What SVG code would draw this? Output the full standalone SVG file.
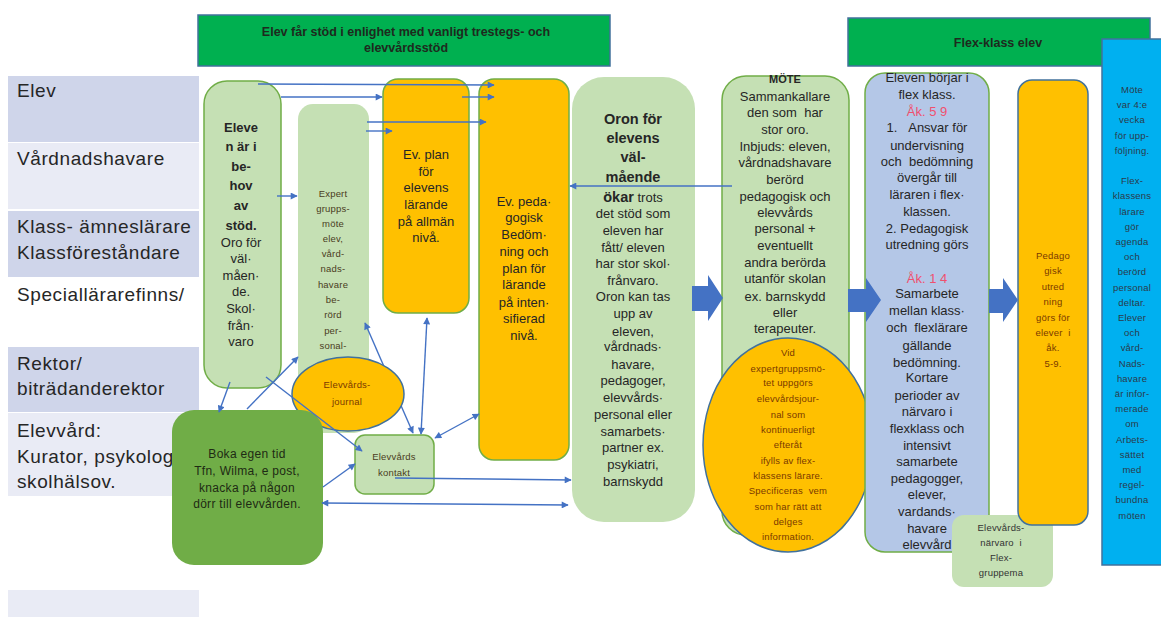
<svg xmlns="http://www.w3.org/2000/svg" width="1161" height="617" viewBox="0 0 1161 617">
<defs>
<marker id="ah" viewBox="0 0 10 10" refX="9" refY="5" markerWidth="8" markerHeight="7" markerUnits="userSpaceOnUse" orient="auto-start-reverse"><path d="M0,0 L10,5 L0,10 z" fill="#4472c4"/></marker>
<style>
.lane-d{fill:#cfd5ea}
.lane-l{fill:#e9ebf5}
.lt{font-family:"Liberation Sans",Arial,sans-serif;font-size:19px;fill:#262626;letter-spacing:0.6px}
.ban{fill:#00b050;stroke:#41719c;stroke-width:1.5}
.bt{font-family:"Liberation Sans",Arial,sans-serif;font-size:12.5px;font-weight:bold;fill:#1e2a1e;text-anchor:middle}
.gbox{fill:#c5e0b4;stroke:#70ad47;stroke-width:1.5}
.gfill{fill:#c5e0b4}
.obox{fill:#ffc000;stroke:#70ad47;stroke-width:1.5}
.oboxb{fill:#ffc000;stroke:#41719c;stroke-width:1.5}
.ell{fill:#ffc000;stroke:#41719c;stroke-width:1.5}
.t{font-family:"Liberation Sans",Arial,sans-serif;font-size:13px;fill:#262626;text-anchor:middle}
.tb{font-weight:bold}
.big{font-size:14.5px;font-weight:bold}
.s{font-family:"Liberation Sans",Arial,sans-serif;font-size:9.5px;fill:#4a3c22;text-anchor:middle;letter-spacing:0.2px}
.se{fill:#7a3a00}
.red{fill:#f0506e}
.conn{fill:none;stroke:#4472c4;stroke-width:1.4}
.blk{fill:#4472c4}
</style>
</defs>
<rect width="1161" height="617" fill="#ffffff"/>

<g id="lanes">
<rect class="lane-d" x="8" y="76" width="191" height="66"/>
<rect class="lane-l" x="8" y="143" width="191" height="66"/>
<rect class="lane-d" x="8" y="211" width="191" height="66"/>
<rect class="lane-d" x="8" y="347" width="191" height="65"/>
<rect class="lane-l" x="8" y="413" width="191" height="83"/>
<rect class="lane-l" x="8" y="590" width="191" height="27"/>
<text class="lt" x="17" y="97">Elev</text>
<text class="lt" x="17" y="165">Vårdnadshavare</text>
<text class="lt" x="17" y="233">Klass- ämneslärare</text>
<text class="lt" x="17" y="259">Klassföreståndare</text>
<text class="lt" x="17" y="301">Speciallärarefinns/</text>
<text class="lt" x="17" y="370">Rektor/</text>
<text class="lt" x="17" y="395">biträdanderektor</text>
<text class="lt" x="17" y="437">Elevvård:</text>
<text class="lt" x="17" y="463">Kurator, psykolog</text>
<text class="lt" x="17" y="488">skolhälsov.</text>
</g>

<g id="banner-trestegs">
<rect class="ban" x="198" y="15" width="412" height="51"/>
<text class="bt" x="406" y="36">Elev får stöd i enlighet med vanligt trestegs- och</text>
<text class="bt" x="406" y="52">elevvårdsstöd</text>
</g>

<g id="banner-flex">
<rect class="ban" x="848" y="18" width="302" height="48"/>
<text class="bt" x="998" y="47">Flex-klass elev</text>
</g>

<g id="node-expertgrupp">
<rect class="gfill" x="298" y="104" width="71" height="329" rx="15"/>
<text class="s"><tspan x="333" y="197">Expert</tspan><tspan x="333" y="212">grupps-</tspan><tspan x="333" y="227">möte</tspan><tspan x="333" y="242">elev,</tspan><tspan x="333" y="257">vård-</tspan><tspan x="333" y="272">nads-</tspan><tspan x="333" y="288">havare</tspan><tspan x="333" y="303">be-</tspan><tspan x="333" y="318">rörd</tspan><tspan x="333" y="334">per-</tspan><tspan x="333" y="349">sonal-</tspan></text>
</g>

<g id="connectors-back">
<line class="conn" x1="365" y1="323" x2="413" y2="433" marker-start="url(#ah)" marker-end="url(#ah)"/>
</g>

<g id="node-behov">
<rect class="gbox" x="204" y="81" width="77" height="307" rx="23"/>
<text class="t"><tspan class="tb" x="241" y="132">Eleve</tspan><tspan class="tb" x="241" y="151">n är i</tspan><tspan class="tb" x="241" y="171">be-</tspan><tspan class="tb" x="241" y="190">hov</tspan><tspan class="tb" x="241" y="210">av</tspan><tspan class="tb" x="241" y="230">stöd.</tspan><tspan x="241" y="247">Oro för</tspan><tspan x="241" y="263">väl·</tspan><tspan x="241" y="280">måen·</tspan><tspan x="241" y="296">de.</tspan><tspan x="241" y="313">Skol·</tspan><tspan x="241" y="330">från·</tspan><tspan x="241" y="346">varo</tspan></text>
</g>

<g id="node-plan-allman">
<rect class="obox" x="383" y="79" width="86" height="234" rx="15"/>
<text class="t"><tspan x="426" y="159">Ev. plan</tspan><tspan x="426" y="176">för</tspan><tspan x="426" y="192">elevens</tspan><tspan x="426" y="209">lärande</tspan><tspan x="426" y="226">på allmän</tspan><tspan x="426" y="242">nivå.</tspan></text>
</g>

<g id="node-pedagogisk">
<rect class="obox" x="479" y="79" width="90" height="381" rx="15"/>
<text class="t"><tspan x="524" y="206">Ev. peda·</tspan><tspan x="524" y="222">gogisk</tspan><tspan x="524" y="239">Bedöm·</tspan><tspan x="524" y="256">ning och</tspan><tspan x="524" y="273">plan för</tspan><tspan x="524" y="289">lärande</tspan><tspan x="524" y="307">på inten·</tspan><tspan x="524" y="323">sifierad</tspan><tspan x="524" y="340">nivå.</tspan></text>
</g>

<g id="node-oron">
<rect class="gfill" x="572" y="77" width="123" height="445" rx="32"/>
<text class="t"><tspan class="big" x="633" y="124">Oron för</tspan><tspan class="big" x="633" y="143">elevens</tspan><tspan class="big" x="633" y="162">väl-</tspan><tspan class="big" x="633" y="182">mående</tspan><tspan x="633" y="202"><tspan class="big">ökar</tspan> trots</tspan><tspan x="633" y="218">det stöd som</tspan><tspan x="633" y="235">eleven har</tspan><tspan x="633" y="252">fått/ eleven</tspan><tspan x="633" y="268">har stor skol·</tspan><tspan x="633" y="285">frånvaro.</tspan><tspan x="633" y="301">Oron kan tas</tspan><tspan x="633" y="318">upp av</tspan><tspan x="633" y="336">eleven,</tspan><tspan x="633" y="351">vårdnads·</tspan><tspan x="633" y="369">havare,</tspan><tspan x="633" y="385">pedagoger,</tspan><tspan x="633" y="402">elevvårds·</tspan><tspan x="633" y="419">personal eller</tspan><tspan x="633" y="436">samarbets·</tspan><tspan x="633" y="452">partner ex.</tspan><tspan x="633" y="469">psykiatri,</tspan><tspan x="633" y="486">barnskydd</tspan></text>
</g>

<g id="node-mote">
<rect class="gbox" x="722" y="76" width="127" height="459" rx="24"/>
<text class="t"><tspan class="tb" x="785" y="83" style="font-size:11px">MÖTE</tspan><tspan x="785" y="101">Sammankallare</tspan><tspan x="785" y="117">den som&#160; har</tspan><tspan x="785" y="134">stor oro.</tspan><tspan x="785" y="151">Inbjuds: eleven,</tspan><tspan x="785" y="167">vårdnadshavare</tspan><tspan x="785" y="184">berörd</tspan><tspan x="785" y="201">pedagogisk och</tspan><tspan x="785" y="217">elevvårds</tspan><tspan x="785" y="233">personal +</tspan><tspan x="785" y="250">eventuellt</tspan><tspan x="785" y="267">andra berörda</tspan><tspan x="785" y="283">utanför skolan</tspan><tspan x="785" y="301">ex. barnskydd</tspan><tspan x="785" y="317">eller</tspan><tspan x="785" y="333">terapeuter.</tspan></text>
</g>

<g id="node-journal-flex">
<ellipse class="ell" cx="788" cy="445" rx="85" ry="107"/>
<text class="s se"><tspan x="788" y="356">Vid</tspan><tspan x="788" y="372">expertgruppsmö-</tspan><tspan x="788" y="386">tet uppgörs</tspan><tspan x="788" y="402">elevvårdsjour-</tspan><tspan x="788" y="418">nal som</tspan><tspan x="788" y="433">kontinuerligt</tspan><tspan x="788" y="448">efteråt</tspan><tspan x="788" y="464">ifylls av flex-</tspan><tspan x="788" y="479">klassens lärare.</tspan><tspan x="788" y="494">Specificeras&#160; vem</tspan><tspan x="788" y="510">som har rätt att</tspan><tspan x="788" y="525">delges</tspan><tspan x="788" y="540">information.</tspan></text>
</g>

<g id="node-flexklass">
<rect x="865" y="73" width="124" height="479" rx="20" fill="#b4c7e7" stroke="#70ad47" stroke-width="1.5"/>
<text class="t"><tspan x="927" y="82">Eleven börjar i</tspan><tspan x="927" y="99">flex klass.</tspan><tspan class="red" x="927" y="116">Åk. 5 9</tspan><tspan x="927" y="132">1.&#160;&#160;&#160;Ansvar för</tspan><tspan x="927" y="150">undervisning</tspan><tspan x="927" y="166">och&#160; bedömning</tspan><tspan x="927" y="182">övergår till</tspan><tspan x="927" y="199">läraren i flex·</tspan><tspan x="927" y="216">klassen.</tspan><tspan x="927" y="233">2. Pedagogisk</tspan><tspan x="927" y="249">utredning görs</tspan><tspan class="red" x="927" y="283">Åk. 1 4</tspan><tspan x="927" y="298">Samarbete</tspan><tspan x="927" y="315">mellan klass·</tspan><tspan x="927" y="332">och&#160; flexlärare</tspan><tspan x="927" y="350">gällande</tspan><tspan x="927" y="367">bedömning.</tspan><tspan x="927" y="382">Kortare</tspan><tspan x="927" y="400">perioder av</tspan><tspan x="927" y="416">närvaro i</tspan><tspan x="927" y="433">flexklass och</tspan><tspan x="927" y="450">intensivt</tspan><tspan x="927" y="466">samarbete</tspan><tspan x="927" y="483">pedagogger,</tspan><tspan x="927" y="499">elever,</tspan><tspan x="927" y="516">vardands·</tspan><tspan x="927" y="533">havare</tspan><tspan x="927" y="549">elevvård</tspan></text>
</g>

<g id="node-narvaro">
<rect class="gfill" x="952" y="515" width="101" height="72" rx="12"/>
<text class="s" style="fill:#333"><tspan x="1001" y="531">Elevvårds-</tspan><tspan x="1001" y="546">närvaro&#160; i</tspan><tspan x="1001" y="561">Flex-</tspan><tspan x="1001" y="576">gruppema</tspan></text>
</g>

<g id="node-utredning">
<rect class="oboxb" x="1018" y="80" width="70" height="445" rx="14"/>
<text class="s se"><tspan x="1053" y="259">Pedago</tspan><tspan x="1053" y="274">gisk</tspan><tspan x="1053" y="290">utred</tspan><tspan x="1053" y="305">ning</tspan><tspan x="1053" y="321">görs för</tspan><tspan x="1053" y="336">elever&#160; i</tspan><tspan x="1053" y="351">åk.</tspan><tspan x="1053" y="367">5-9.</tspan></text>
</g>

<g id="node-uppfoljning">
<rect x="1102" y="39" width="62" height="526" fill="#00b0f0" stroke="#41719c" stroke-width="1.5"/>
<text class="s" style="fill:#2b3a4a"><tspan x="1132" y="93">Möte</tspan><tspan x="1132" y="108">var 4:e</tspan><tspan x="1132" y="123">vecka</tspan><tspan x="1132" y="139">för upp-</tspan><tspan x="1132" y="154">följning.</tspan><tspan x="1132" y="184">Flex-</tspan><tspan x="1132" y="199">klassens</tspan><tspan x="1132" y="215">lärare</tspan><tspan x="1132" y="230">gör</tspan><tspan x="1132" y="245">agenda</tspan><tspan x="1132" y="260">och</tspan><tspan x="1132" y="275">berörd</tspan><tspan x="1132" y="291">personal</tspan><tspan x="1132" y="306">deltar.</tspan><tspan x="1132" y="321">Elever</tspan><tspan x="1132" y="336">och</tspan><tspan x="1132" y="351">vård-</tspan><tspan x="1132" y="367">Nads-</tspan><tspan x="1132" y="382">havare</tspan><tspan x="1132" y="397">är infor-</tspan><tspan x="1132" y="412">merade</tspan><tspan x="1132" y="427">om</tspan><tspan x="1132" y="443">Arbets-</tspan><tspan x="1132" y="458">sättet</tspan><tspan x="1132" y="473">med</tspan><tspan x="1132" y="488">regel-</tspan><tspan x="1132" y="503">bundna</tspan><tspan x="1132" y="519">möten</tspan></text>
</g>

<g id="node-journal">
<ellipse class="ell" cx="348" cy="394" rx="56" ry="37"/>
<text class="s se"><tspan x="347" y="388">Elevvårds-</tspan><tspan x="347" y="405">journal</tspan></text>
</g>

<g id="node-boka">
<rect x="172" y="410" width="151" height="155" rx="22" fill="#70ad47"/>
<text class="t" style="font-size:12px;letter-spacing:0.3px;fill:#1e2a14"><tspan x="247" y="458">Boka egen tid</tspan><tspan x="247" y="475">Tfn, Wilma, e post,</tspan><tspan x="247" y="492">knacka på någon</tspan><tspan x="247" y="508">dörr till elevvården.</tspan></text>
</g>

<g id="node-kontakt">
<rect class="gbox" x="355" y="435" width="79" height="59" rx="10"/>
<text class="s"><tspan x="394" y="460">Elevvårds</tspan><tspan x="394" y="476">kontakt</tspan></text>
</g>

<g id="block-arrows">
<path class="blk" d="M692,286 H708 V275 L723,298 L708,321 V311 H692 Z"/>
<path class="blk" d="M848,289 H866 V278 L881,300 L866,322 V312 H848 Z"/>
<path class="blk" d="M989,289 H1003 V278 L1018,300 L1003,322 V313 H989 Z"/>
</g>

<g id="connectors">
<line class="conn" x1="258" y1="84" x2="494" y2="85" marker-end="url(#ah)"/>
<line class="conn" x1="281" y1="97" x2="382" y2="97" marker-end="url(#ah)"/>
<line class="conn" x1="462" y1="97" x2="494" y2="97" marker-end="url(#ah)"/>
<line class="conn" x1="367" y1="122" x2="486" y2="122" marker-end="url(#ah)"/>
<line class="conn" x1="366" y1="131" x2="392" y2="131" marker-end="url(#ah)"/>
<line class="conn" x1="277" y1="196" x2="297" y2="196" marker-end="url(#ah)"/>
<line class="conn" x1="732" y1="186" x2="570" y2="186" marker-end="url(#ah)"/>
<line class="conn" x1="230" y1="382" x2="219" y2="412" marker-end="url(#ah)"/>
<line class="conn" x1="247" y1="409" x2="298" y2="357" marker-end="url(#ah)"/>
<line class="conn" x1="266" y1="377" x2="362" y2="451" marker-end="url(#ah)"/>
<line class="conn" x1="323" y1="487" x2="355" y2="464" marker-end="url(#ah)"/>
<line class="conn" x1="395" y1="478" x2="571" y2="480" marker-end="url(#ah)"/>
<line class="conn" x1="322" y1="503" x2="568" y2="505" marker-start="url(#ah)" marker-end="url(#ah)"/>
<line class="conn" x1="427" y1="318" x2="421" y2="434" marker-start="url(#ah)" marker-end="url(#ah)"/>
<line class="conn" x1="435" y1="438" x2="479" y2="414" marker-start="url(#ah)" marker-end="url(#ah)"/>
</g>
</svg>
